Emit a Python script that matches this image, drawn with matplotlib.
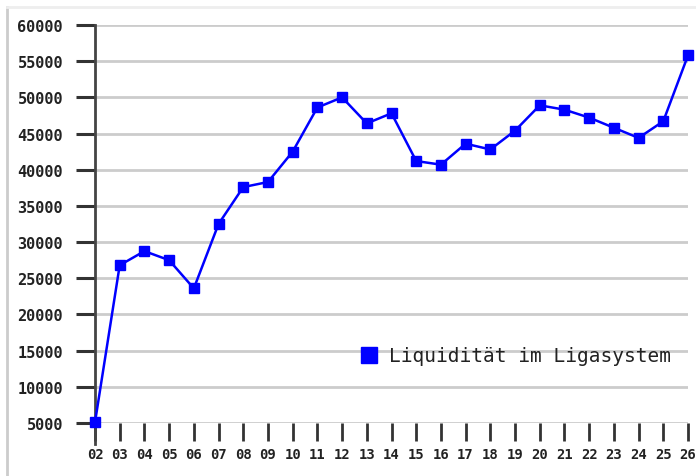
import matplotlib
matplotlib.use("Agg")
import matplotlib.pyplot as plt
from matplotlib.lines import Line2D

years = ["02", "03", "04", "05", "06", "07", "08", "09", "10", "11", "12", "13",
         "14", "15", "16", "17", "18", "19", "20", "21", "22", "23", "24", "25", "26"]
liquiditaet = [5100, 26800, 28750, 27500, 23600, 32500, 37600, 38300, 42500, 48600,
               50000, 46400, 47800, 41200, 40700, 43600, 42800, 45400, 48900, 48300,
               47200, 45800, 44400, 46700, 55800]
yticks = [5000, 10000, 15000, 20000, 25000, 30000, 35000, 40000, 45000, 50000, 55000, 60000]
series_label = "Liquidität im Ligasystem"

W, H = 696, 477
fig = plt.figure(figsize=(W / 100, H / 100), dpi=100)
fig.patch.set_facecolor("white")

# outer frame lines (light grey)
fig.add_artist(Line2D([7 / W, 7 / W], [0, 1 - 8 / H], color="#cccccc", lw=2))
fig.add_artist(Line2D([7 / W, 1], [1 - 8 / H, 1 - 8 / H], color="#eeeeee", lw=2))

left, right = 95 / W, 688 / W
bottom, top = 1 - 424 / H, 1 - 26 / H
ax = fig.add_axes([left, bottom, right - left, top - bottom])

x = list(range(len(years)))
ax.plot(x, liquiditaet, color="#0000ff", lw=1.8, marker="s", markersize=7,
        markerfacecolor="#0000ff", markeredgecolor="#0000ff", zorder=3, clip_on=False)

ax.set_xlim(0, len(years) - 1)
ax.set_ylim(5000, 60000)
ax.set_yticks(yticks)
ax.set_xticks(x)
ax.set_xticklabels(years)

for s in ["top", "right", "bottom"]:
    ax.spines[s].set_visible(False)
ax.spines["left"].set_color("#444444")
ax.spines["left"].set_linewidth(2)
# extend y axis line down through the tick area
ax.plot([0, 0], [-21 / 398, 0], transform=ax.transAxes, color="#444444", lw=2, clip_on=False)

ax.grid(axis="y", color="#cccccc", lw=2)
ax.set_axisbelow(True)

ax.tick_params(axis="y", length=14, width=2.2, color="#333333", pad=9, labelsize=11,
               labelcolor="#222222")
ax.tick_params(axis="x", length=13, width=2, color="#333333", pad=4, labelsize=10,
               labelcolor="#222222")
for lab in ax.get_yticklabels() + ax.get_xticklabels():
    lab.set_fontfamily("DejaVu Sans Mono")
    lab.set_fontweight("bold")

handle = Line2D([], [], marker="s", ls="none", color="#0000ff", markersize=12)
leg = ax.legend([handle], [series_label], loc="center left",
                bbox_to_anchor=(342 / W, 1 - 357 / H), bbox_transform=fig.transFigure,
                frameon=False, handlelength=1.0, handletextpad=0.5,
                prop={"family": "DejaVu Sans Mono", "size": 14})
for t in leg.get_texts():
    t.set_color("#222222")

fig.savefig("out.png", dpi=100, facecolor="white")
